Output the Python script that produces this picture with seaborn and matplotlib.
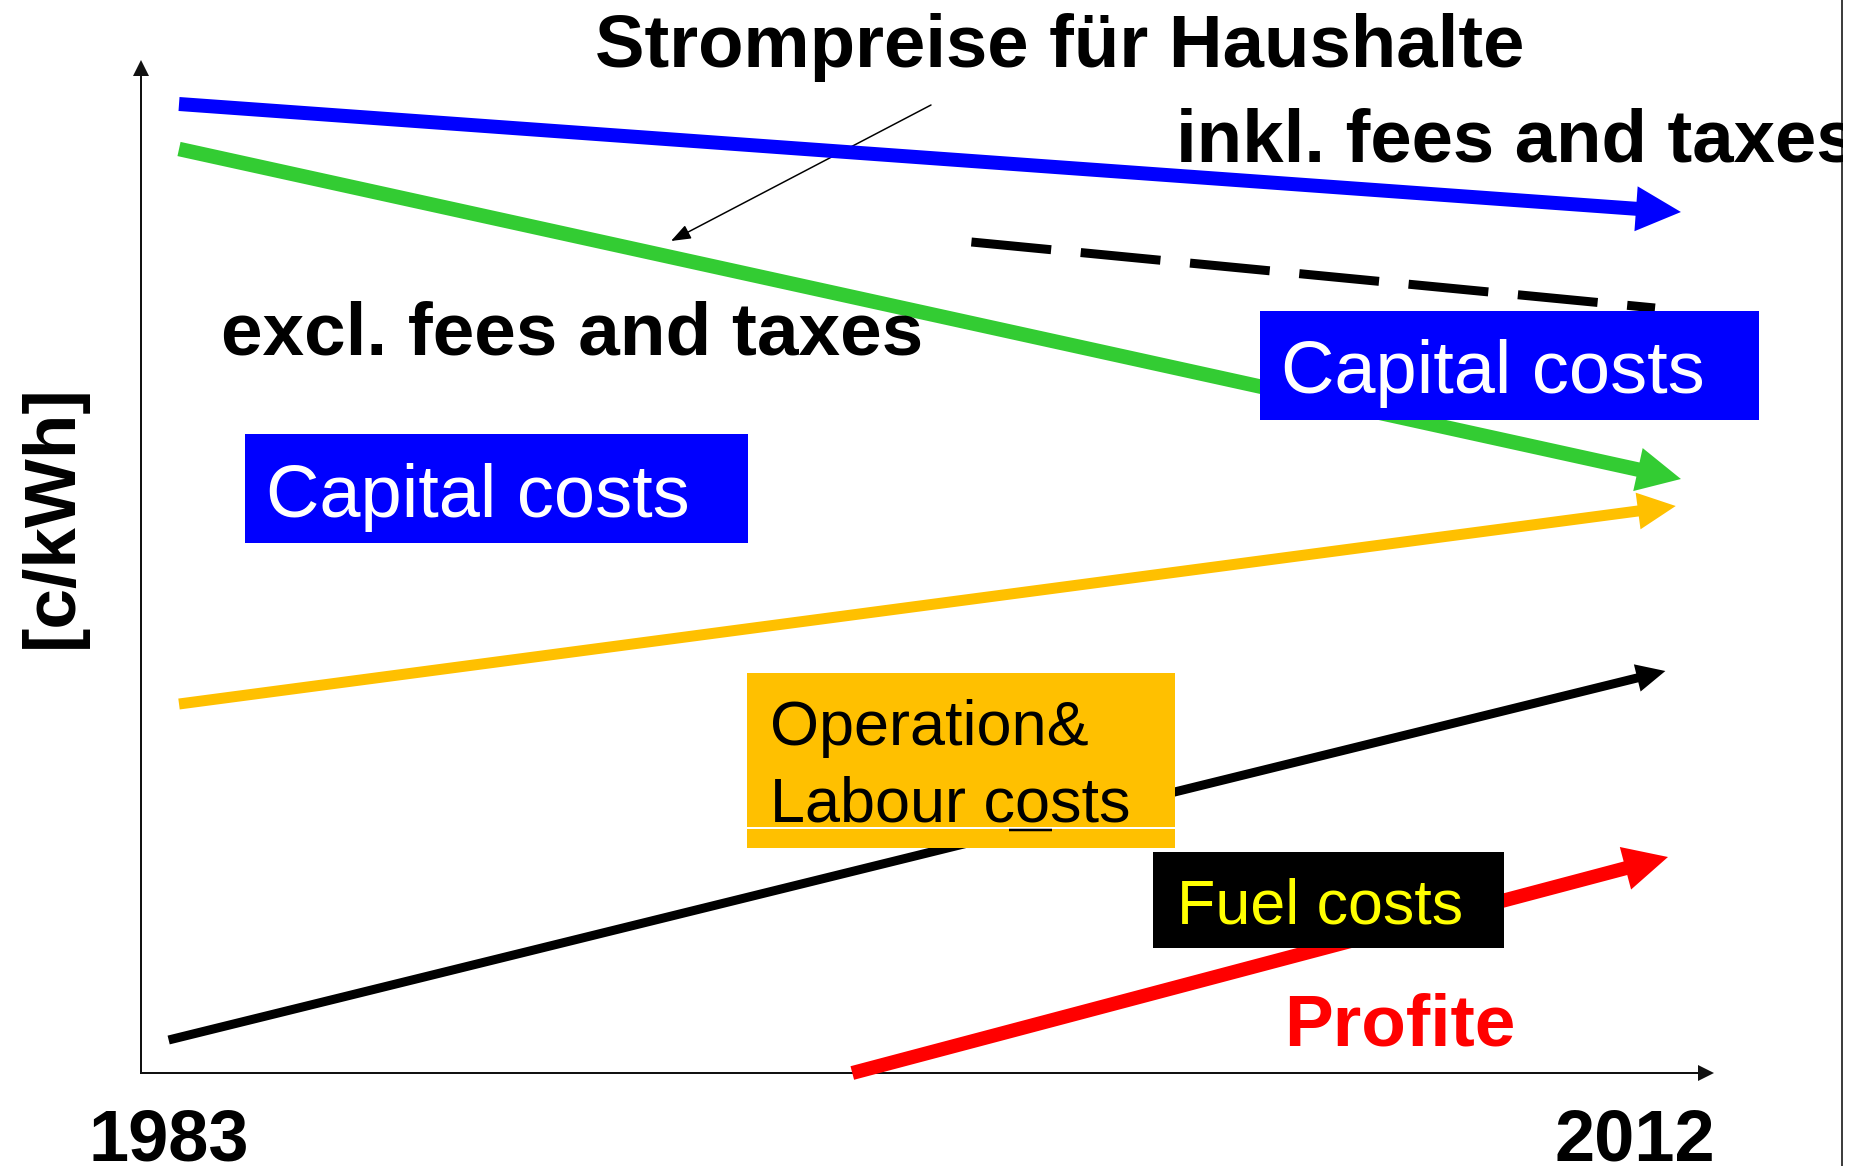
import numpy as np
import pandas as pd
import matplotlib
matplotlib.use("Agg")
import matplotlib.pyplot as plt
from matplotlib.patches import Rectangle
from matplotlib.lines import Line2D
import seaborn as sns

# ---------------- data ----------------
series_names = ["Preis inkl.", "Preis excl.", "Betrieb", "Brennstoff", "Profite", "Trend"]
start_year = [1983.0, 1983.0, 1983.0, 1982.8, 1996.0, 1998.3]
end_year = [2012.0, 2012.0, 2011.9, 2011.7, 2011.75, 2011.5]
start_value = [32.3, 30.8, 12.3, 1.1, 0.0, 27.7]
end_value = [28.7, 19.8, 18.9, 13.4, 7.2, 25.5]

xtick_positions = [1982.8, 2011.1]
xtick_labels = ["1983", "2012"]
y_label = "[c/kWh]"

# ---------------- styles ----------------
line_colors = {"Preis inkl.": "#0000FF", "Preis excl.": "#33CC33", "Betrieb": "#FFC000",
               "Brennstoff": "#000000", "Profite": "#FF0000", "Trend": "#000000"}
line_width_px = {"Preis inkl.": 14, "Preis excl.": 14.5, "Betrieb": 11,
                 "Brennstoff": 9, "Profite": 14, "Trend": 9}
head_px = {"Preis inkl.": (45, 45), "Preis excl.": (44, 44), "Betrieb": (38, 37),
           "Brennstoff": (29, 28), "Profite": (44, 44), "Trend": (0, 0)}
dash_style = {n: "" for n in series_names}
dash_style["Trend"] = (8.9, 3.3)

W, H, DPI = 1866, 1166, 100
PT = 72.0 / DPI  # points per pixel

sns.set_style("white")
plt.rcParams["font.family"] = ["Liberation Sans", "DejaVu Sans"]
plt.rcParams["lines.solid_capstyle"] = "butt"
plt.rcParams["lines.dash_capstyle"] = "butt"
plt.rcParams["text.color"] = "black"
plt.rcParams["axes.labelcolor"] = "black"
plt.rcParams["xtick.color"] = "black"
plt.rcParams["ytick.color"] = "black"

fig = plt.figure(figsize=(W / DPI, H / DPI), dpi=DPI)
fig.patch.set_facecolor("white")


def fx(px):
    return px / W


def fy(py):
    return 1 - py / H


ax_l, ax_r, ax_t, ax_b = 141, 1706, 68, 1073
ax = fig.add_axes([fx(ax_l), fy(ax_b), (ax_r - ax_l) / W, (ax_b - ax_t) / H])
XLIM = (1982.266, 2012.484)
YLIM = (0, 33.5)
ax.set_xlim(*XLIM)
ax.set_ylim(*YLIM)
ax.patch.set_visible(False)

# shafts end where the arrow heads begin
rows = []
heads = []
for n, x0, x1, y0, y1 in zip(series_names, start_year, end_year, start_value, end_value):
    p0 = ax.transData.transform((x0, y0))
    p1 = ax.transData.transform((x1, y1))
    L, Wd = head_px[n]
    rows.append({"series": n, "year": x0, "value": y0})
    if L > 0:
        u = (p1 - p0) / np.hypot(*(p1 - p0))
        base = p1 - u * (L - 1.5)
        xb, yb = ax.transData.inverted().transform(base)
        rows.append({"series": n, "year": xb, "value": yb})
        bc = p1 - u * L
        nv = np.array([-u[1], u[0]])
        tri = np.array([p1, bc + nv * Wd / 2, bc - nv * Wd / 2])
        tri_d = ax.transData.inverted().transform(tri)
        heads.append((tri_d, line_colors[n]))
    else:
        rows.append({"series": n, "year": x1, "value": y1})
df = pd.DataFrame(rows)

sns.lineplot(data=df, x="year", y="value", hue="series", size="series", style="series",
             palette=line_colors, sizes={k: v * PT for k, v in line_width_px.items()},
             dashes=dash_style, legend=False, estimator=None, sort=False, ax=ax,
             zorder=3, clip_on=False, solid_capstyle="butt", dash_capstyle="butt")
for tri_d, c in heads:
    ax.fill(tri_d[:, 0], tri_d[:, 1], color=c, lw=0, zorder=3, clip_on=False)

ax.set_xlim(*XLIM)
ax.set_ylim(*YLIM)

# axes with arrows
for s in ["top", "right"]:
    ax.spines[s].set_visible(False)
for s in ["left", "bottom"]:
    ax.spines[s].set_linewidth(2 * PT)
    ax.spines[s].set_color("#111111")
ax.plot(1, 0, ">", color="#111111", ms=16 * PT, mew=0, transform=ax.transAxes, clip_on=False)
ax.plot(0, 1, "^", color="#111111", ms=16 * PT, mew=0, transform=ax.transAxes, clip_on=False)

ax.set_yticks([])
ax.set_xticks(xtick_positions, xtick_labels)
ax.tick_params(axis="x", length=0, pad=25, labelsize=52, labelcolor="black")
for t in ax.get_xticklabels():
    t.set_fontweight("bold")
    t.set_color("black")
ax.set_xlabel("")
ax.set_ylabel(y_label, fontsize=52.6, fontweight="bold", color="black")
ax.yaxis.set_label_coords((87 - ax_l) / (ax_r - ax_l), (ax_b - 516) / (ax_b - ax_t))

# thin pointer from the title
ax.annotate("", xy=(671, H - 241), xycoords="figure pixels",
            xytext=(931, H - 105), textcoords="figure pixels",
            arrowprops=dict(arrowstyle="-|>,head_length=1.2,head_width=0.45",
                            lw=1.5 * PT, color="black", shrinkA=0, shrinkB=0,
                            mutation_scale=10),
            zorder=1)

# label boxes
boxes = [
    (245, 434, 748, 543, "#0000FF"),
    (1260, 311, 1759, 420, "#0000FF"),
    (747, 673, 1175, 848, "#FFC000"),
    (1153, 852, 1504, 948, "#000000"),
]
for x0, y0, x1, y1, c in boxes:
    fig.add_artist(Rectangle((fx(x0), fy(y1)), (x1 - x0) / W, (y1 - y0) / H,
                             transform=fig.transFigure, facecolor=c, edgecolor="none", zorder=5))
fig.add_artist(Line2D([fx(747), fx(1175)], [fy(828), fy(828)], transform=fig.transFigure,
                      color="white", lw=2 * PT, zorder=6))
fig.add_artist(Line2D([fx(1009), fx(1052)], [fy(830), fy(830)], transform=fig.transFigure,
                      color="black", lw=2.5 * PT, zorder=6))

texts = [
    (595, 67, "Strompreise für Haushalte", 53.6, "bold", "black"),
    (1176, 162, "inkl. fees and taxes", 53.6, "bold", "black"),
    (221, 355, "excl. fees and taxes", 53.8, "bold", "black"),
    (266, 517, "Capital costs", 53.3, "normal", "white"),
    (1281, 393, "Capital costs", 53.3, "normal", "white"),
    (770, 745, "Operation&", 45.4, "normal", "black"),
    (770, 822, "Labour costs", 45.4, "normal", "black"),
    (1177, 923, "Fuel costs", 45.2, "normal", "#FFFF00"),
    (1284, 1045, "Profite", 52.6, "bold", "#FF0000"),
]
for x, y, s, fs, fw, c in texts:
    fig.text(fx(x), fy(y), s, fontsize=fs, fontweight=fw, color=c,
             ha="left", va="baseline", zorder=7)

# cropped right edge of the slide
fig.add_artist(Rectangle((fx(1843), 0), (W - 1843) / W, 1, transform=fig.transFigure,
                         facecolor="white", edgecolor="none", zorder=20))
fig.add_artist(Line2D([fx(1842), fx(1842)], [0, 1], transform=fig.transFigure,
                      color="black", lw=1.5 * PT, zorder=21))

fig.savefig("out.png", dpi=DPI, facecolor="white")
